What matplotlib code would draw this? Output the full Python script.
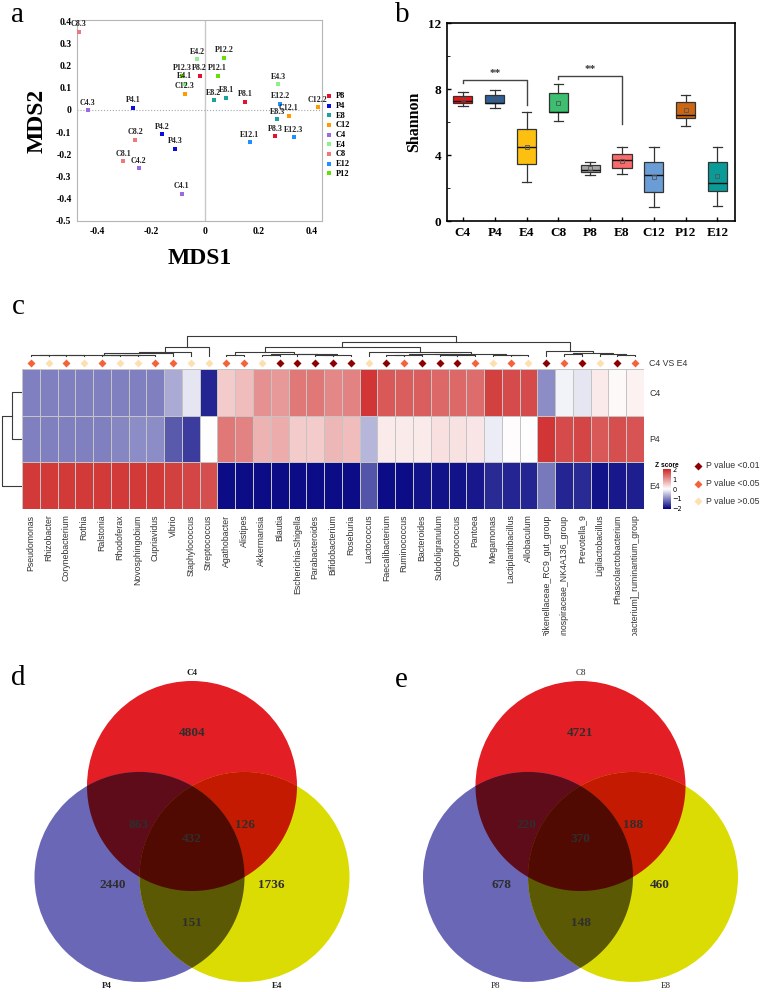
import numpy as np
import matplotlib
matplotlib.use('Agg')
import matplotlib.pyplot as plt
from matplotlib.colors import LinearSegmentedColormap, Normalize, to_rgb
from matplotlib.patches import Circle, Polygon
from matplotlib.transforms import Bbox, TransformedBbox

SERIF = 'Liberation Serif'
SANS = 'Liberation Sans'
W, H = 760, 992

# ---------------- panel a : MDS ----------------
mds_names = ['C8.3', 'E4.2', 'P12.2', 'P12.3', 'P8.2', 'P12.1', 'E4.1', 'C12.3',
             'E8.2', 'E8.1', 'P8.1', 'E4.3', 'E12.2', 'C12.2', 'C12.1', 'E8.3',
             'P8.3', 'E12.3', 'E12.1', 'C4.3', 'P4.1', 'P4.2', 'P4.3', 'C8.2',
             'C8.1', 'C4.2', 'C4.1']
mds1 = [-0.469, -0.028, 0.072, -0.083, -0.019, 0.049, -0.074, -0.074,
        0.034, 0.080, 0.151, 0.274, 0.282, 0.421, 0.313, 0.271,
        0.262, 0.331, 0.168, -0.435, -0.267, -0.158, -0.110, -0.258,
        -0.302, -0.245, -0.086]
mds2 = [0.353, 0.228, 0.236, 0.153, 0.153, 0.153, 0.117, 0.073,
        0.043, 0.055, 0.036, 0.116, 0.028, 0.013, -0.026, -0.041,
        -0.119, -0.124, -0.146, -0.002, 0.009, -0.110, -0.174, -0.134,
        -0.232, -0.262, -0.378]
mds_groups = ['P8', 'P4', 'E8', 'C12', 'C4', 'E4', 'C8', 'E12', 'P12']
mds_colors = ['#e3102e', '#0c0cdc', '#1aa39c', '#ff9a00', '#9a6ae0',
              '#8cf08c', '#f07878', '#1e90ff', '#66e000']

# ---------------- panel b : Shannon ----------------
shannon_groups = ['C4', 'P4', 'E4', 'C8', 'P8', 'E8', 'C12', 'P12', 'E12']
sh_q1 = [7.17, 7.13, 3.43, 6.61, 2.97, 3.23, 1.74, 6.26, 1.82]
sh_q3 = [7.60, 7.66, 5.56, 7.74, 3.37, 4.04, 3.56, 7.19, 3.60]
sh_med = [7.25, 7.15, 4.46, 6.62, 3.11, 3.70, 2.77, 6.44, 2.32]
sh_lo = [6.95, 6.87, 2.36, 6.04, 2.79, 2.83, 0.83, 5.78, 0.93]
sh_hi = [7.84, 7.96, 6.63, 8.30, 3.58, 4.48, 4.51, 7.66, 4.51]
sh_mean = [7.39, 7.39, 4.48, 7.17, 3.21, 3.62, 2.65, 6.75, 2.73]
sh_colors = ['#f51010', '#2e5f96', '#fdc010', '#3cc070', '#a6a6a6',
             '#fb6a6a', '#6a9cd5', '#cd6612', '#0a9a98']
sig_pairs = [(0, 2), (3, 5)]
sig_top = [8.57, 8.81]
sig_left = [8.36, 8.60]
sig_right = [7.03, 5.86]
sig_text = ['**', '**']

# ---------------- panel c : heatmap ----------------
taxa = ['Pseudomonas', 'Rhizobacter', 'Corynebacterium', 'Rothia', 'Ralstonia',
        'Rhodoferax', 'Novosphingobium', 'Cupriavidus', 'Vibrio', 'Staphylococcus',
        'Streptococcus', 'Agathobacter', 'Alistipes', 'Akkermansia', 'Blautia',
        'Escherichia-Shigella', 'Parabacteroides', 'Bifidobacterium', 'Roseburia',
        'Lactococcus', 'Faecalibacterium', 'Ruminococcus', 'Bacteroides',
        'Subdoligranulum', 'Coprococcus', 'Pantoea', 'Megamonas',
        'Lactiplantibacillus', 'Allobaculum', 'Rikenellaceae_RC9_gut_group',
        'Lachnospiraceae_NK4A136_group', 'Prevotella_9', 'Ligilactobacillus',
        'Phascolarctobacterium', '[Eubacterium]_ruminantium_group']
z_c4 = [-1.05, -1.05, -1.05, -1.05, -1.05, -1.05, -1.05, -1.05, -0.7, -0.2,
        -1.8, 0.5, 0.65, 1.05, 1.0, 1.3, 1.3, 1.15, 1.2,
        1.95, 1.6, 1.55, 1.55, 1.45, 1.45, 1.4, 1.85, 1.75, 1.75,
        -0.95, -0.1, -0.2, 0.2, 0.05, 0.12]
z_p4 = [-1.05, -1.05, -1.05, -1.05, -1.05, -1.0, -0.95, -0.95, -1.35, -1.6,
        0.0, 1.3, 1.2, 0.75, 0.8, 0.5, 0.5, 0.7, 0.65,
        -0.6, 0.2, 0.2, 0.2, 0.3, 0.28, 0.25, -0.15, 0.02, 0.0,
        1.95, 1.75, 1.8, 1.6, 1.7, 1.65]
z_e4 = [1.9, 1.9, 1.9, 1.9, 1.9, 1.9, 1.9, 1.9, 1.85, 1.8,
        1.7, -2.0, -2.0, -2.0, -2.0, -2.0, -2.0, -2.0, -2.0,
        -1.4, -2.0, -2.0, -1.95, -1.95, -1.95, -1.9, -1.75, -1.8, -1.8,
        -1.1, -1.8, -1.75, -1.95, -1.9, -1.85]
samples = ['C4', 'P4', 'E4']
# 0: P<0.01, 1: P<0.05, 2: P>0.05
p_level = [1, 2, 1, 2, 1, 2, 2, 1, 1, 2, 2, 1, 1, 2, 0, 0, 0, 0, 0, 2,
           0, 1, 0, 0, 0, 1, 2, 1, 2, 0, 1, 0, 2, 0, 1]
p_labels = ['P value <0.01', 'P value <0.05', 'P value >0.05']
p_colors = ['#8b0000', '#f4623a', '#fde0b0']
# dendrograms: (height, left, right), leaves are column / row indices
col_tree = (1.0,
            (0.44,
             (0.18,
              (0.11,
               (0.03,
                (0.015, (0.01, (0.005, 0, 1), 2), 3),
                (0.015, (0.01, (0.005, 4, 5), 6), 7)),
               8),
              9),
             10),
            (0.71,
             (0.45,
              (0.19,
               (0.05, 11, 12),
               (0.08, (0.03, 13, 14), (0.06, 15, (0.04, (0.02, 16, 17), 18)))),
              (0.19,
               19,
               (0.10,
                (0.07, (0.04, (0.02, 20, 21), 22), (0.05, (0.02, 23, 24), 25)),
                (0.05, 26, (0.03, 27, 28))))),
             (0.25,
              29,
              (0.13, (0.06, 30, 31), (0.08, 32, (0.04, 33, 34))))))
row_tree = (1.0, (0.5, 0, 1), 2)

# ---------------- panels d, e : Venn ----------------
venn_d_sets = ['C4', 'P4', 'E4']
venn_d_counts = [4804, 2440, 1736, 863, 126, 151, 432]   # C, P, E, CP, CE, PE, CPE
venn_e_sets = ['C8', 'P8', 'E8']
venn_e_counts = [4721, 678, 460, 220, 188, 148, 370]
venn_colors = ['#e31e24', '#6a67b7', '#dcdc05']


def box(l, t, r, b):
    return [l / W, 1 - b / H, (r - l) / W, (b - t) / H]


def draw_tree(ax, node, side):
    if not isinstance(node, tuple):
        return node + 0.5, 0.0
    h, left, right = node
    lp, lh = draw_tree(ax, left, side)
    rp, rh = draw_tree(ax, right, side)
    if side == 'top':
        ax.plot([lp, lp, rp, rp], [lh, h, h, rh], color='#3a3a3a', lw=0.8)
    else:
        ax.plot([lh, h, h, rh], [lp, lp, rp, rp], color='#3a3a3a', lw=0.8)
    return (lp + rp) / 2, h


def intersection_poly(centers, r=1.0):
    t = np.linspace(0, 2 * np.pi, 1440, endpoint=False)
    pts = []
    for i, (cx, cy) in enumerate(centers):
        px, py = cx + r * np.cos(t), cy + r * np.sin(t)
        inside = np.ones_like(t, dtype=bool)
        for j, (ox, oy) in enumerate(centers):
            if j != i:
                inside &= (px - ox) ** 2 + (py - oy) ** 2 <= r * r + 1e-9
        pts.append(np.column_stack([px[inside], py[inside]]))
    pts = np.vstack(pts)
    c = pts.mean(axis=0)
    return pts[np.argsort(np.arctan2(pts[:, 1] - c[1], pts[:, 0] - c[0]))]


def draw_venn(ax, names, counts, bold_names):
    centers = [(0.0, 0.0), (-0.5, -0.866), (0.5, -0.866)]
    rgb = [np.array(to_rgb(c)) for c in venn_colors]
    for (cx, cy), c in zip(centers, rgb):
        ax.add_patch(Circle((cx, cy), 1.0, facecolor=c, edgecolor='none'))
    # overlaps look like the colours multiplied together
    for combo in [(0, 1), (0, 2), (1, 2), (0, 1, 2)]:
        col = np.prod([rgb[k] for k in combo], axis=0)
        poly = intersection_poly([centers[k] for k in combo])
        ax.add_patch(Polygon(poly, closed=True, facecolor=col, edgecolor='none'))
    count_pos = [(0, 0.505), (-0.752, -0.943), (0.752, -0.943), (-0.514, -0.371),
                 (0.505, -0.371), (0, -1.305), (0, -0.505)]
    for (x, y), n in zip(count_pos, counts):
        ax.text(x, y, str(n), ha='center', va='center', fontsize=9.5,
                fontweight='bold', family=SERIF, color='#2e2e2e')
    name_pos = [(0, 1.076), (-0.81, -1.905), (0.81, -1.905)]
    for (x, y), n in zip(name_pos, names):
        ax.text(x, y, n, ha='center', va='center', fontsize=6.5, family=SERIF,
                fontweight='bold' if bold_names else 'normal', color='#222')
    ax.set_axis_off()


fig = plt.figure(figsize=(W / 100, H / 100), dpi=100)

# ---- a ----
ax = fig.add_axes(box(77, 20, 322, 221))
for g, c in zip(mds_groups, mds_colors):
    xs = [x for n, x in zip(mds_names, mds1) if n.split('.')[0] == g]
    ys = [y for n, y in zip(mds_names, mds2) if n.split('.')[0] == g]
    ax.scatter(xs, ys, marker='s', s=10, color=c, linewidths=0, label=g, zorder=3)
for n, x, y in zip(mds_names, mds1, mds2):
    ax.annotate(n, (x, y), xytext=(0, 2.5), textcoords='offset points', ha='center',
                va='bottom', fontsize=5.8, fontweight='bold', family=SERIF, color='#222')
ax.axvline(0, color='#c8c8c8', lw=1, zorder=1)
ax.axhline(0, color='#a8a8a8', lw=0.8, ls=':', zorder=1)
ax.set_xlim(-0.475, 0.437)
ax.set_ylim(-0.5, 0.405)
xt = [-0.4, -0.2, 0, 0.2, 0.4]
yt = np.round(np.arange(-5, 5) / 10, 1)
ax.set_xticks(xt, [f'{v:g}' for v in xt])
ax.set_yticks(yt, [f'{v:g}' for v in yt])
ax.tick_params(length=0, pad=4, labelsize=7)
for lbl in ax.get_xticklabels() + ax.get_yticklabels():
    lbl.set_fontfamily(SERIF)
    lbl.set_fontweight('bold')
for s in ax.spines.values():
    s.set_color('#b5b5b5')
ax.set_xlabel('MDS1', fontsize=17, fontweight='bold', family=SERIF, labelpad=9)
ax.set_ylabel('MDS2', fontsize=17, fontweight='bold', family=SERIF, labelpad=6)
ax.legend(loc='upper left', bbox_to_anchor=(323 / W, 1 - 89 / H),
          bbox_transform=fig.transFigure, frameon=False, handlelength=0.7,
          handletextpad=0.4, labelspacing=0.2, borderaxespad=0,
          prop={'family': SERIF, 'weight': 'bold', 'size': 6})

# ---- b ----
ax = fig.add_axes(box(447, 23, 735, 221))
stats = [dict(med=m, q1=a, q3=b, whislo=lo, whishi=hi, mean=mn, fliers=[])
         for m, a, b, lo, hi, mn in zip(sh_med, sh_q1, sh_q3, sh_lo, sh_hi, sh_mean)]
bp = ax.bxp(stats, positions=range(len(stats)), widths=0.6, capwidths=0.3,
            showmeans=True, patch_artist=True,
            boxprops=dict(edgecolor='#333333', linewidth=0.9),
            medianprops=dict(color='#111111', linewidth=1.0),
            whiskerprops=dict(color='#333333', linewidth=0.9),
            capprops=dict(color='#333333', linewidth=0.9),
            meanprops=dict(marker='s', markerfacecolor='none', markeredgecolor='#555555',
                           markersize=2.5, markeredgewidth=0.6))
for patch, c in zip(bp['boxes'], sh_colors):
    patch.set_facecolor(c)
for (a, b), top, yl, yr, txt in zip(sig_pairs, sig_top, sig_left, sig_right, sig_text):
    ax.plot([a, a, b, b], [yl, top, top, yr], color='#444444', lw=1)
    ax.text((a + b) / 2, top + 0.1, txt, ha='center', va='bottom', fontsize=8,
            fontweight='bold', family=SERIF, color='#333')
ax.set_xlim(-0.5, 8.55)
ax.set_ylim(0, 12)
ax.set_yticks([0, 4, 8, 12])
ax.set_yticks([2, 6, 10], minor=True)
ax.set_xticks(range(len(shannon_groups)), shannon_groups)
ax.tick_params(direction='in', length=3, width=1, labelsize=9.5, pad=4)
ax.tick_params(which='minor', direction='in', length=2)
for lbl in ax.get_xticklabels() + ax.get_yticklabels():
    lbl.set_fontfamily(SERIF)
    lbl.set_fontweight('bold')
for s in ax.spines.values():
    s.set_linewidth(1.2)
ax.set_ylabel('Shannon', fontsize=11.5, fontweight='bold', family=SERIF, labelpad=4)

# ---- c ----
cmap = LinearSegmentedColormap.from_list('pheat', ['#000080', '#ffffff', '#cd2626'])
norm = Normalize(-2.1, 2.1)
z = np.array([z_c4, z_p4, z_e4])
ax = fig.add_axes(box(22, 369, 644, 509))
mesh = ax.pcolormesh(z, cmap=cmap, norm=norm, edgecolors='#c4c4c4', linewidth=0.7)
ax.set_xlim(0, len(taxa))
ax.set_ylim(3, 0)
ax.set_xticks(np.arange(len(taxa)) + 0.5, taxa, rotation=90)
ax.yaxis.tick_right()
ax.set_yticks(np.arange(3) + 0.5, samples)
ax.tick_params(length=0, labelsize=6.3, labelcolor='#333333', pad=4)
for s in ax.spines.values():
    s.set_visible(False)
# long genus names are cut off at the bottom like in the source figure
clip = TransformedBbox(Bbox([[0, 1 - 636 / H], [1, 1]]), fig.transFigure)
for lbl in ax.get_xticklabels():
    lbl.set_fontfamily(SANS)
    lbl.set_clip_box(clip)
    lbl.set_clip_on(True)
for lbl in ax.get_yticklabels():
    lbl.set_fontfamily(SANS)

ax = fig.add_axes(box(22, 333, 644, 368))
draw_tree(ax, col_tree, 'top')
for i, lev in enumerate(p_level):
    ax.plot(i + 0.5, -0.385, marker='D', ms=4.2, color=p_colors[lev], mec='none')
ax.set_xlim(0, len(taxa))
ax.set_ylim(-0.64, 1.154)
ax.set_axis_off()
fig.text(649 / W, 1 - 363 / H, 'C4 VS E4', fontsize=6.3, family=SANS,
         color='#333333', va='center')

ax = fig.add_axes(box(0, 369, 22, 509))
draw_tree(ax, row_tree, 'left')
ax.set_xlim(1.1, 0)
ax.set_ylim(3, 0)
ax.set_axis_off()

cax = fig.add_axes(box(663, 469, 671, 509))
cb = fig.colorbar(mesh, cax=cax, ticks=[-2, -1, 0, 1, 2])
cb.outline.set_visible(False)
cax.tick_params(length=0, labelsize=4.8, pad=1)
cax.set_title('Z score', fontsize=4.8, fontweight='bold', pad=1.5, family=SANS)

ax = fig.add_axes(box(692, 455, 760, 512))
for k, (lab, c) in enumerate(zip(p_labels, p_colors)):
    ax.plot(0.09, 2 - k, marker='D', ms=4.2, color=c, mec='none')
    ax.text(0.2, 2 - k, lab, fontsize=6.3, family=SANS, color='#333333', va='center')
ax.set_xlim(0, 1)
ax.set_ylim(-0.6, 2.6)
ax.set_axis_off()

# ---- d, e ----
ax = fig.add_axes(box(0, 640, 380, 992))
draw_venn(ax, venn_d_sets, venn_d_counts, True)
ax.set_xlim(-192 / 105, (380 - 192) / 105)
ax.set_ylim((786 - 992) / 105, (786 - 640) / 105)

ax = fig.add_axes(box(380, 640, 760, 992))
draw_venn(ax, venn_e_sets, venn_e_counts, False)
ax.set_xlim(-200.5 / 105, (380 - 200.5) / 105)
ax.set_ylim((786 - 992) / 105, (786 - 640) / 105)

for letter, x, y in [('a', 18, 15), ('b', 402, 15), ('c', 18, 307), ('d', 18, 678), ('e', 401, 680)]:
    fig.text(x / W, 1 - y / H, letter, fontsize=21, family=SERIF, ha='center', va='center')

fig.savefig('out.png', dpi=100)
